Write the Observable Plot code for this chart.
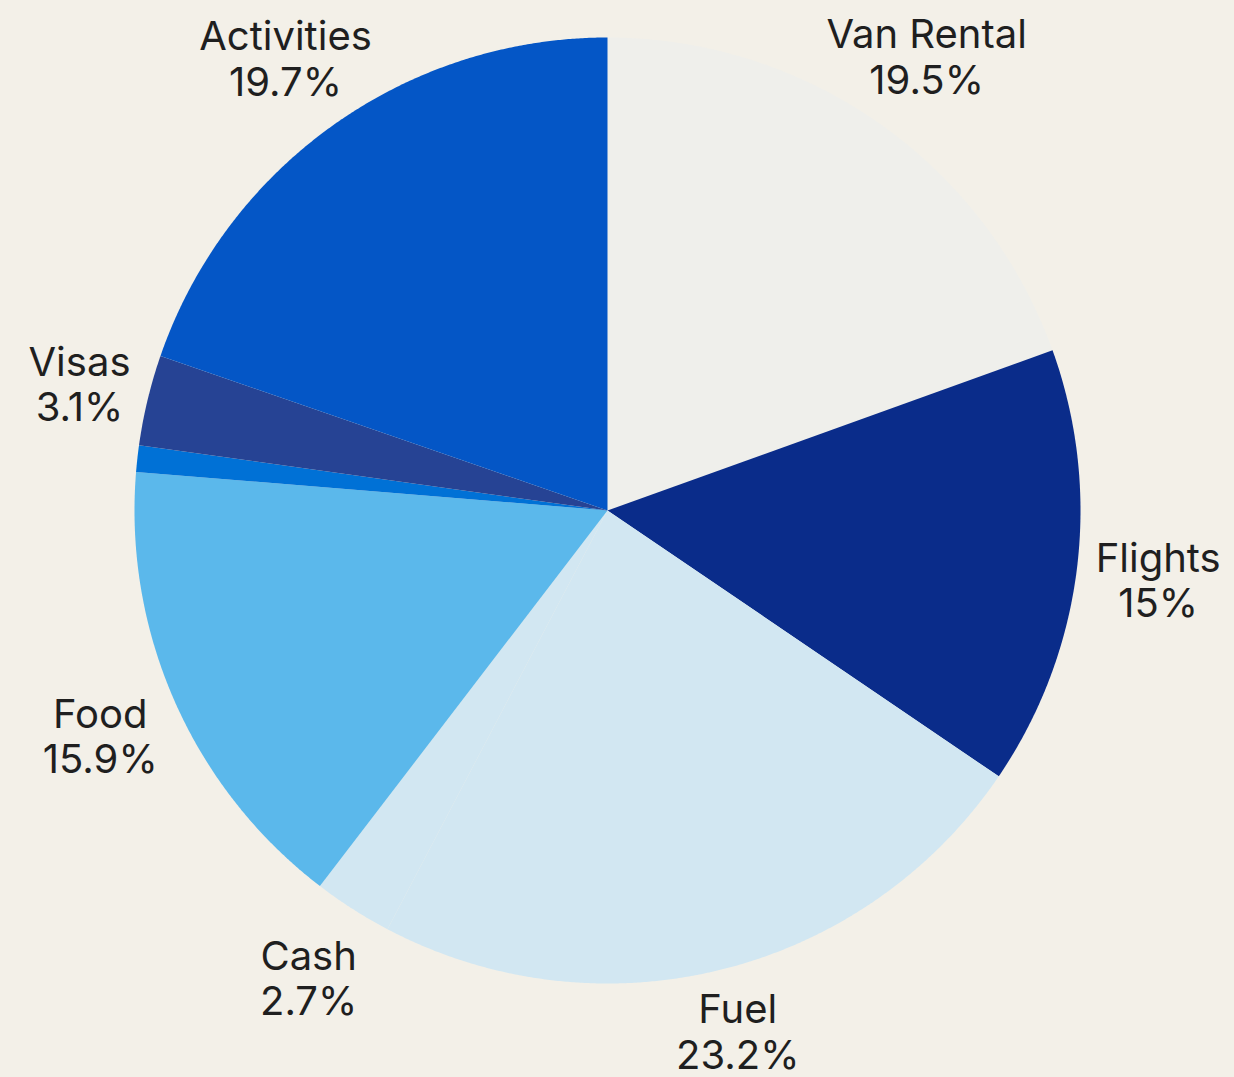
<!DOCTYPE html>
<html>
<head>
<meta charset="utf-8">
<script src="https://cdn.jsdelivr.net/npm/d3@7"></script>
<script src="https://cdn.jsdelivr.net/npm/@observablehq/plot@0.6"></script>
<style>
  html, body { margin: 0; padding: 0; background: #f3f0e8; }
  #chart { width: 1234px; height: 1077px; }
</style>
</head>
<body>
<div id="chart"></div>
<script>
// Data (clockwise from 12 o'clock)
const categories = ["Van Rental", "Flights", "Fuel", "Cash", "Food", "Other", "Visas", "Activities"];
const percents   = [19.5, 15, 23.2, 2.7, 15.9, 0.9, 3.1, 19.7];
const labelText  = ["19.5%", "15%", "23.2%", "2.7%", "15.9%", "", "3.1%", "19.7%"];
const colors     = ["#efefeb", "#0a2c8a", "#d2e7f2", "#d2e7f2", "#5bb8eb", "#0071d6", "#264394", "#0456c6"];

// Layout
const W = 1234, H = 1077, CX = 607, CY = 510, R = 473;
const FONT_SIZE = 40, LINE_HEIGHT = 1.13;
const labelRpx = 555;      // preferred label distance from centre, px
const edgePadX = 28, edgePadBottom = 0;

const pie = d3.pie().sort(null).value(d => d.value);
const arcs = pie(categories.map((c, i) => ({name: c, value: percents[i]})));

const polyPoints = [];
arcs.forEach(a => {
  const name = a.data.name;
  polyPoints.push({name, x: 0, y: 0});
  const step = Math.PI / 720;
  const n = Math.max(2, Math.ceil((a.endAngle - a.startAngle) / step));
  for (let k = 0; k <= n; k++) {
    const t = a.startAngle + (a.endAngle - a.startAngle) * k / n;
    polyPoints.push({name, x: Math.sin(t), y: Math.cos(t)});
  }
  polyPoints.push({name, x: 0, y: 0});
});

// text measurement for keeping labels inside the frame
const ctx = document.createElement("canvas").getContext("2d");
ctx.font = `${FONT_SIZE}px Inter`;
function fits(px, py, halfW, halfH) {
  return px - halfW >= edgePadX && px + halfW <= W - edgePadX / 4 &&
         py - halfH >= 0 && py + halfH <= H - edgePadBottom;
}

const labels = arcs
  .map((a, i) => ({a, i}))
  .filter(({i}) => labelText[i] !== "")
  .map(({a, i}) => {
    const m = (a.startAngle + a.endAngle) / 2;
    const text = categories[i] + "\n" + labelText[i];
    const halfW = Math.max(...text.split("\n").map(s => ctx.measureText(s).width)) / 2;
    const halfH = FONT_SIZE * LINE_HEIGHT;
    let r = labelRpx;
    while (r > R && !fits(CX + r * Math.sin(m), CY - r * Math.cos(m), halfW, halfH)) r -= 1;
    return {x: (r / R) * Math.sin(m), y: (r / R) * Math.cos(m), text};
  });

const chart = Plot.plot({
  width: W,
  height: H,
  margin: 0,
  style: {background: "#f3f0e8", fontFamily: "Inter, 'Noto Sans', sans-serif"},
  x: {domain: [-CX / R, (W - CX) / R], axis: null},
  y: {domain: [-(H - CY) / R, CY / R], axis: null},
  color: {domain: categories, range: colors},
  marks: [
    Plot.line(polyPoints, {x: "x", y: "y", z: "name", fill: "name", stroke: "none", curve: "linear"}),
    Plot.text(labels, {x: "x", y: "y", text: "text", fontSize: FONT_SIZE, lineHeight: LINE_HEIGHT, fill: "#1f1f1f"})
  ]
});
document.getElementById("chart").appendChild(chart);
</script>
</body>
</html>
